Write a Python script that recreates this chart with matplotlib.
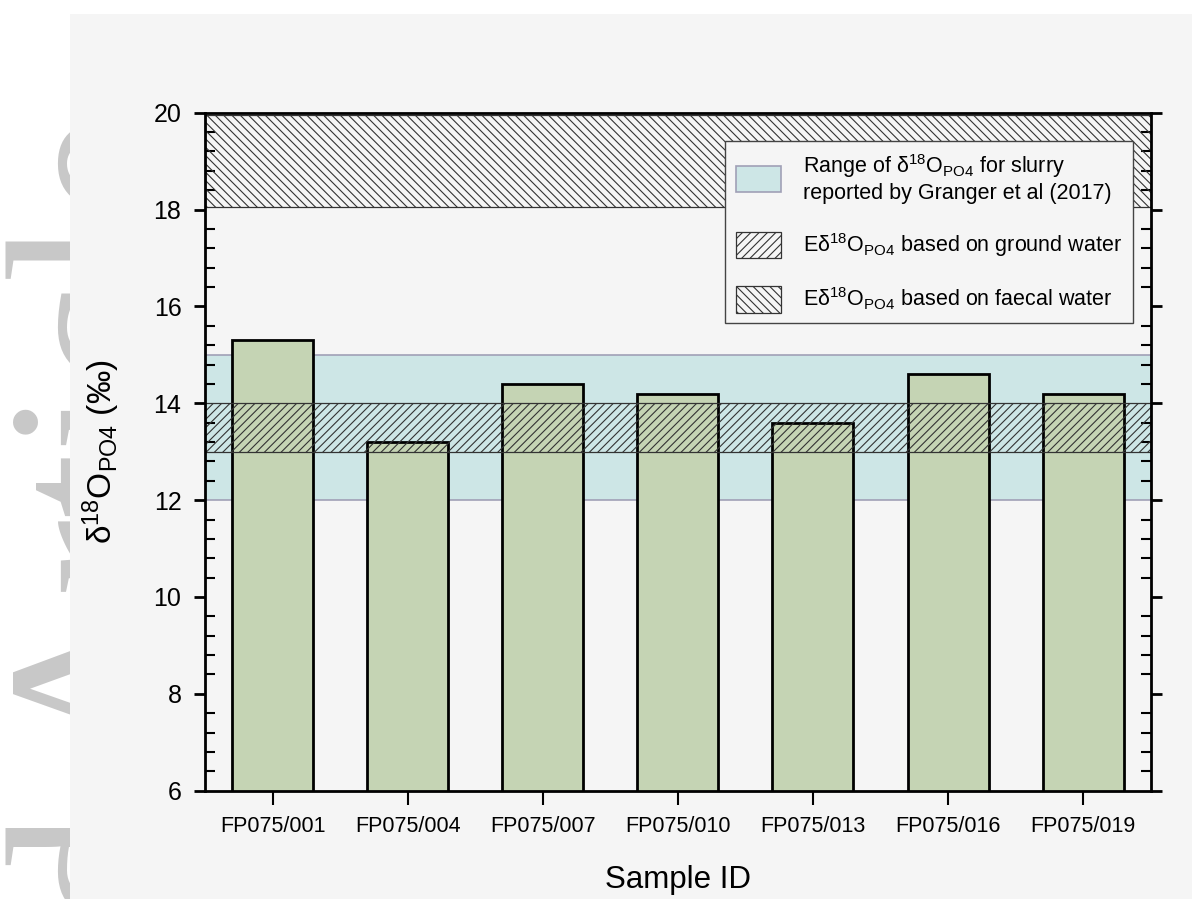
import matplotlib
matplotlib.use("Agg")
import matplotlib.pyplot as plt
from matplotlib.patches import Rectangle
from matplotlib.ticker import MultipleLocator

plt.rcParams['font.family'] = ['Liberation Sans', 'DejaVu Sans']
plt.rcParams['mathtext.default'] = 'regular'
plt.rcParams['hatch.linewidth'] = 0.8

# sample results
samples = ["FP075/001", "FP075/004", "FP075/007", "FP075/010",
           "FP075/013", "FP075/016", "FP075/019"]
d18o_po4 = [15.3, 13.2, 14.4, 14.2, 13.6, 14.6, 14.2]

# reference ranges (permil)
slurry_range = (12.0, 15.0)        # Granger et al (2017)
ground_water_range = (13.0, 14.0)
faecal_water_range = (18.05, 19.95)

BG = '#f5f5f5'
BAR = '#c5d4b4'
CYAN = '#cde6e6'

fig = plt.figure(figsize=(11.92, 8.99), dpi=100)

# faint page watermark behind the panel
fig.text(170 / 1192, 1 - 113 / 899, "Accepted Article", rotation=90,
         rotation_mode='anchor', ha='right', va='baseline',
         fontsize=169, family='Liberation Serif', color='#c8c8c8', zorder=-2)
fig.add_artist(Rectangle((70 / 1192, 0), 1 - 70 / 1192, 1 - 14 / 899,
                         transform=fig.transFigure, facecolor=BG,
                         edgecolor='none', zorder=-1))

ax = fig.add_axes([205 / 1192, 1 - 790.7 / 899, 945.7 / 1192, 678 / 899])
ax.set_facecolor(BG)

x = list(range(len(samples)))

slurry = ax.axhspan(*slurry_range, facecolor=CYAN, edgecolor='#a0a0b6',
                    linewidth=1.2, zorder=1,
                    label="Range of δ$^{18}$O$_{PO4}$ for slurry\n"
                          "reported by Granger et al (2017)")
ax.bar(x, d18o_po4, width=0.6, bottom=0, color=BAR, edgecolor='black',
       linewidth=2, zorder=2)
ground = ax.axhspan(*ground_water_range, facecolor='none', edgecolor='#333333',
                    hatch='////', linewidth=0.9, zorder=3,
                    label="Eδ$^{18}$O$_{PO4}$ based on ground water")
faecal = ax.axhspan(*faecal_water_range, facecolor='none', edgecolor='#333333',
                    hatch='\\\\\\\\', linewidth=0.9, zorder=3,
                    label="Eδ$^{18}$O$_{PO4}$ based on faecal water")

ax.set_xlim(-0.5, len(samples) - 0.5)
ax.set_ylim(6, 20)
ax.set_xticks(x)
ax.set_xticklabels(samples, fontsize=15.5)
ax.yaxis.set_major_locator(MultipleLocator(2))
ax.yaxis.set_minor_locator(MultipleLocator(0.4))

ax.tick_params(axis='y', which='major', direction='out', length=8, width=2,
               left=True, right=True, labelsize=18, pad=9)
ax.tick_params(axis='y', which='minor', direction='in', length=7, width=1.5,
               left=True, right=True)
ax.tick_params(axis='x', which='major', direction='out', length=10, width=1.5,
               top=False, pad=8)
ax.tick_params(axis='x', which='minor', bottom=False, top=False)

for side in ax.spines.values():
    side.set_linewidth(2)
    side.set_zorder(5)

ax.set_xlabel("Sample ID", fontsize=22.5)
ax.xaxis.set_label_coords(0.5, -0.11)
ax.set_ylabel("δ$^{18}$O$_{PO4}$ (‰)", fontsize=24)
ax.yaxis.set_label_coords(-0.088, 0.5)

leg = ax.legend(handles=[slurry, ground, faecal], loc='upper right',
                bbox_to_anchor=(0.981, 0.958), borderaxespad=0,
                fontsize=15.5, frameon=True, fancybox=False,
                handlelength=2.1, handleheight=1.5, labelspacing=1.25,
                handletextpad=1.0, borderpad=0.5)
frame = leg.get_frame()
frame.set_facecolor(BG)
frame.set_edgecolor('#444444')
frame.set_linewidth(1)
frame.set_alpha(1)
leg.set_zorder(6)

fig.savefig("out.png", dpi=100, facecolor='white')
